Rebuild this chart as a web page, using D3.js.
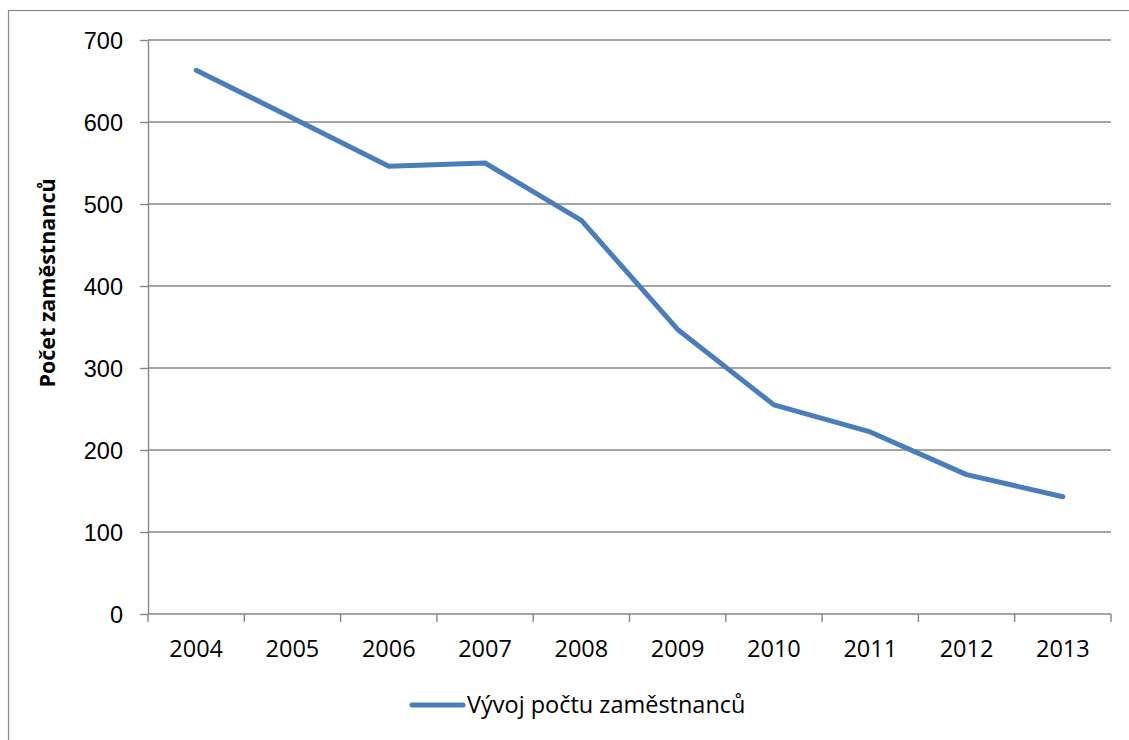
<!DOCTYPE html>
<html>
<head>
<meta charset="utf-8">
<script src="https://cdn.jsdelivr.net/npm/d3@7/dist/d3.min.js"></script>
<style>
  body { margin: 0; background: #fff; }
  svg { display: block; font-family: "Open Sans", Lato, sans-serif; }
  .grid line { stroke: #878787; stroke-width: 1.4; }
  .axis path, .axis line { stroke: #878787; stroke-width: 1.4; }
  .axis text { font-size: 23.5px; fill: #000; }
</style>
</head>
<body>
<script>
  // data
  const years = ["2004", "2005", "2006", "2007", "2008", "2009", "2010", "2011", "2012", "2013"];
  const employees = [663, 605, 546, 550, 480, 347, 255, 222, 170, 143];
  const yTicks = [0, 100, 200, 300, 400, 500, 600, 700];
  const seriesName = "Vývoj počtu zaměstnanců";
  const yTitle = "Počet zaměstnanců";

  const W = 1129, H = 740;
  const plotL = 148, plotR = 1111, plotT = 40, plotB = 614;

  const svg = d3.select("body").append("svg")
    .attr("width", W).attr("height", H);

  // outer chart border
  svg.append("rect")
    .attr("x", 8.5).attr("y", 10.5)
    .attr("width", W + 20).attr("height", H + 20)
    .attr("fill", "none").attr("stroke", "#888").attr("stroke-width", 1.2);

  const x = d3.scaleBand().domain(years).range([plotL, plotR]);
  const y = d3.scaleLinear().domain([0, 700]).range([plotB, plotT]);

  // horizontal gridlines
  svg.append("g").attr("class", "grid")
    .selectAll("line")
    .data(yTicks.filter(d => d > 0))
    .enter().append("line")
    .attr("x1", plotL).attr("x2", plotR)
    .attr("y1", d => y(d)).attr("y2", d => y(d));

  // y axis
  const yAxis = svg.append("g").attr("class", "axis")
    .attr("transform", `translate(${plotL},0)`)
    .call(d3.axisLeft(y).tickValues(yTicks).tickSize(8).tickPadding(17).tickSizeOuter(0));
  yAxis.selectAll("text").attr("dy", "0.36em");

  // x axis, ticks at category boundaries
  const xAxis = svg.append("g").attr("class", "axis")
    .attr("transform", `translate(0,${plotB})`);
  xAxis.append("line")
    .attr("x1", plotL).attr("x2", plotR).attr("y1", 0).attr("y2", 0);
  const edges = years.map(d => x(d)).concat([plotR]);
  xAxis.selectAll("line.tk").data(edges).enter().append("line")
    .attr("class", "tk")
    .attr("x1", d => d).attr("x2", d => d).attr("y1", 0).attr("y2", 8);
  xAxis.selectAll("text").data(years).enter().append("text")
    .attr("x", d => x(d) + x.bandwidth() / 2)
    .attr("y", 43)
    .attr("text-anchor", "middle")
    .text(d => d);

  // y title
  svg.append("text")
    .attr("transform", "translate(55,283) rotate(-90)")
    .attr("text-anchor", "middle")
    .attr("font-size", "21.5px").attr("font-weight", "bold")
    .text(yTitle);

  // series line
  const line = d3.line()
    .x((d, i) => x(years[i]) + x.bandwidth() / 2)
    .y(d => y(d));
  svg.append("path")
    .datum(employees)
    .attr("d", line)
    .attr("fill", "none")
    .attr("stroke", "#4a7ebb")
    .attr("stroke-width", 5)
    .attr("stroke-linejoin", "round")
    .attr("stroke-linecap", "round");

  // legend
  const lg = svg.append("g").attr("transform", "translate(0,705)");
  lg.append("line")
    .attr("x1", 412).attr("x2", 463).attr("y1", 0).attr("y2", 0)
    .attr("stroke", "#4a7ebb").attr("stroke-width", 5).attr("stroke-linecap", "round");
  lg.append("text")
    .attr("x", 467).attr("y", 8)
    .attr("font-size", "23.5px")
    .text(seriesName);
</script>
</body>
</html>
